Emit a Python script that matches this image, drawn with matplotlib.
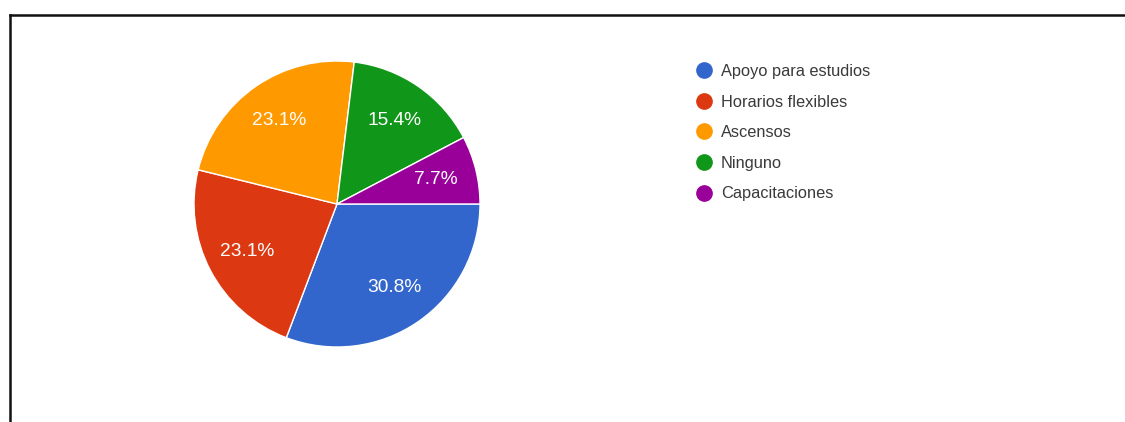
import matplotlib
matplotlib.use("Agg")
import matplotlib.pyplot as plt
from matplotlib.lines import Line2D

plt.rcParams["font.family"] = ["Liberation Sans", "DejaVu Sans"]

# Survey answers (count of responses per option)
categories = ["Apoyo para estudios", "Horarios flexibles", "Ascensos", "Ninguno", "Capacitaciones"]
counts = [4, 3, 3, 2, 1]
colors = ["#3366cc", "#dc3912", "#ff9900", "#109618", "#990099"]

W, H = 1125, 422
fig = plt.figure(figsize=(W / 100, H / 100), dpi=100)

# pie area: center ~(337, 204) px, radius ~143 px
cx, cy, r = 337, 204, 143
ax = fig.add_axes([(cx - r) / W, (H - cy - r) / H, 2 * r / W, 2 * r / H])
wedges, texts, autotexts = ax.pie(
    counts,
    colors=colors,
    startangle=0,
    counterclock=False,
    autopct="%1.1f%%",
    pctdistance=0.71,
    wedgeprops=dict(edgecolor="white", linewidth=1),
    textprops=dict(color="white", fontsize=13.8),
)
ax.set_xlim(-1, 1)
ax.set_ylim(-1, 1)
ax.set_aspect("equal")

handles = [
    Line2D([], [], marker="o", linestyle="none", markersize=11,
           markerfacecolor=c, markeredgecolor=c)
    for c in colors
]
leg = fig.legend(
    handles, categories,
    loc="upper left",
    bbox_to_anchor=(697 / W, 1 - 64 / H),
    frameon=False,
    fontsize=11.8,
    labelspacing=0.95,
    handlelength=0.9,
    handletextpad=0.55,
    borderaxespad=0,
    borderpad=0,
)
for t in leg.get_texts():
    t.set_color("#3a3a3a")

# frame edges along the top and left
fig.add_artist(Line2D([10 / W, 1], [1 - 15 / H, 1 - 15 / H], color="#111111", linewidth=1.8))
fig.add_artist(Line2D([10 / W, 10 / W], [0, 1 - 15 / H], color="#111111", linewidth=1.8))

fig.savefig("out.png", dpi=100)
